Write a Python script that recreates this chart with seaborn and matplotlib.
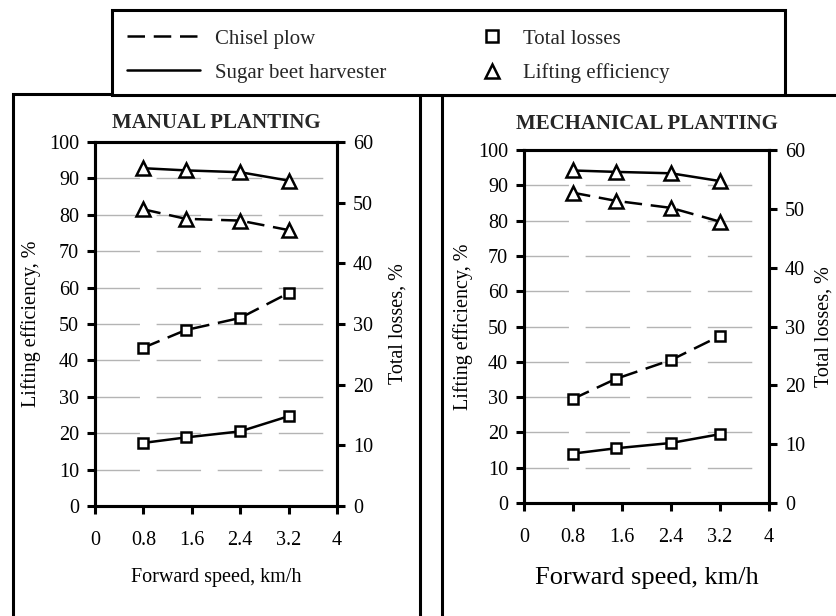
import matplotlib
matplotlib.use("Agg")
import matplotlib.pyplot as plt
import seaborn as sns
import pandas as pd
from matplotlib.lines import Line2D
from matplotlib.patches import Rectangle

# Forward speed, km/h
speed = [0.8, 1.5, 2.4, 3.2]

# Manual planting
manual_eff_harvester = [92.8, 92.2, 91.7, 89.4]
manual_eff_chisel = [81.5, 78.9, 78.4, 75.8]
manual_loss_chisel = [26.1, 29.0, 31.0, 35.1]
manual_loss_harvester = [10.4, 11.3, 12.3, 14.8]

# Mechanical planting
mech_eff_harvester = [94.2, 93.8, 93.4, 91.2]
mech_eff_chisel = [87.9, 85.6, 83.6, 79.7]
mech_loss_chisel = [17.7, 21.1, 24.3, 28.4]
mech_loss_harvester = [8.4, 9.3, 10.2, 11.7]

x_ticks = [0, 0.8, 1.6, 2.4, 3.2, 4]
x_tick_labels = ["0", "0.8", "1.6", "2.4", "3.2", "4"]
eff_ticks = list(range(0, 101, 10))
loss_ticks = list(range(0, 61, 10))

panel_titles = ["MANUAL PLANTING", "MECHANICAL PLANTING"]
xlabel = "Forward speed, km/h"
eff_label = "Lifting efficiency, %"
loss_label = "Total losses, %"
legend_lines = ["Chisel plow", "Sugar beet harvester"]
legend_markers = ["Total losses", "Lifting efficiency"]

sns.set_style("white")
plt.rcParams["font.family"] = ["Liberation Serif", "DejaVu Serif"]
plt.rcParams["axes.linewidth"] = 2.2

W, H = 836, 616
fig = plt.figure(figsize=(W / 100, H / 100), dpi=100)

DASH = (0, (7, 3.5))
LW = 1.8
TICK_FS = 14.5


def px_axes(x0, y_top, x1, y_bot):
    return [x0 / W, 1 - y_bot / H, (x1 - x0) / W, (y_bot - y_top) / H]


def draw_panel(rect, title, eff_h, eff_c, loss_c, loss_h, title_y,
               xlabel_fs, xlabel_y, ylab_x, ylab2_x):
    ax = fig.add_axes(rect)
    ax2 = ax.twinx()

    df = pd.DataFrame({
        "speed": speed,
        "eff_h": eff_h, "eff_c": eff_c,
        "loss_c": loss_c, "loss_h": loss_h,
    })
    mk = dict(color="black", markerfacecolor="white", markeredgecolor="black",
              markeredgewidth=1.8, linewidth=LW)
    sns.lineplot(data=df, x="speed", y="eff_h", ax=ax, marker="^",
                 markersize=9.5, linestyle="-", **mk)
    sns.lineplot(data=df, x="speed", y="eff_c", ax=ax, marker="^",
                 markersize=9.5, linestyle=DASH, **mk)
    sns.lineplot(data=df, x="speed", y="loss_c", ax=ax2, marker="s",
                 markersize=7.5, linestyle=DASH, **mk)
    sns.lineplot(data=df, x="speed", y="loss_h", ax=ax2, marker="s",
                 markersize=7.5, linestyle="-", **mk)

    ax.set_xlim(0, 4)
    ax.set_ylim(0, 100)
    ax2.set_ylim(0, 60)
    ax.set_xticks(x_ticks)
    ax.set_xticklabels(x_tick_labels)
    ax.set_yticks(eff_ticks)
    ax2.set_yticks(loss_ticks)

    ax.set_axisbelow(True)
    ax.yaxis.grid(True, color="#b4b4b4", linestyle=(0, (32, 12)), linewidth=1)
    ax.xaxis.grid(False)

    for a in (ax, ax2):
        for s in a.spines.values():
            s.set_color("black")
            s.set_linewidth(2.2)
            s.set_visible(True)

    ax.tick_params(axis="y", which="both", left=True, right=False,
                   direction="out", length=6, width=2.2, pad=5.5,
                   labelsize=TICK_FS, colors="black")
    ax.tick_params(axis="x", which="both", bottom=True, top=False,
                   direction="out", length=6, width=2.2, pad=12,
                   labelsize=TICK_FS, colors="black")
    ax2.tick_params(axis="y", which="both", left=False, right=True,
                    direction="out", length=6, width=2.2, pad=5.5,
                    labelsize=TICK_FS, colors="black")

    ax.set_xlabel(xlabel, fontsize=xlabel_fs, color="black")
    ax.xaxis.set_label_coords(0.5, xlabel_y)
    ax.set_ylabel(eff_label, fontsize=TICK_FS, color="black")
    ax.yaxis.set_label_coords(ylab_x, 0.5)
    ax2.set_ylabel(loss_label, fontsize=TICK_FS, color="black")
    ax2.yaxis.set_label_coords(ylab2_x, 0.5)

    ax.text(0.5, title_y, title, transform=ax.transAxes, ha="center",
            va="center", fontsize=15, fontweight="bold")
    return ax, ax2


draw_panel(px_axes(95, 142, 337, 506), panel_titles[0],
           manual_eff_harvester, manual_eff_chisel,
           manual_loss_chisel, manual_loss_harvester,
           title_y=1.053, xlabel_fs=14.5, xlabel_y=-0.17,
           ylab_x=-0.225, ylab2_x=1.212)
draw_panel(px_axes(524, 150, 769, 503), panel_titles[1],
           mech_eff_harvester, mech_eff_chisel,
           mech_loss_chisel, mech_loss_harvester,
           title_y=1.075, xlabel_fs=19, xlabel_y=-0.18,
           ylab_x=-0.208, ylab2_x=1.185)

# Panel frames
fig.add_artist(Rectangle((13 / W, -0.1), (420 - 13) / W, (616 - 94) / H + 0.1,
                         transform=fig.transFigure, fill=False,
                         edgecolor="black", linewidth=2.2, zorder=1))
fig.add_artist(Rectangle((442 / W, -0.1), 0.6, (616 - 95) / H + 0.1,
                         transform=fig.transFigure, fill=False,
                         edgecolor="black", linewidth=2.2, zorder=1))
# Legend frame
fig.add_artist(Rectangle((112 / W, 1 - 95 / H), (785 - 112) / W, 85 / H,
                         transform=fig.transFigure, facecolor="white",
                         edgecolor="black", linewidth=2.2, zorder=3))

line_handles = [
    Line2D([], [], color="black", linewidth=LW, linestyle=DASH),
    Line2D([], [], color="black", linewidth=LW, linestyle="-"),
]
marker_handles = [
    Line2D([], [], color="black", linestyle="none", marker="s",
           markersize=9, markerfacecolor="white", markeredgewidth=1.8),
    Line2D([], [], color="black", linestyle="none", marker="^",
           markersize=10, markerfacecolor="white", markeredgewidth=1.8),
]
leg_kw = dict(frameon=False, borderpad=0, borderaxespad=0, labelspacing=0.7,
              prop={"size": 15}, loc="upper left")
fig.legend(line_handles, legend_lines, bbox_to_anchor=(127 / W, 1 - 29 / H),
           handlelength=3.5, handletextpad=0.72, **leg_kw)
fig.legend(marker_handles, legend_markers, bbox_to_anchor=(482 / W, 1 - 29 / H),
           handlelength=1.0, handletextpad=0.96, numpoints=1, **leg_kw)

fig.savefig("out.png", dpi=100)
